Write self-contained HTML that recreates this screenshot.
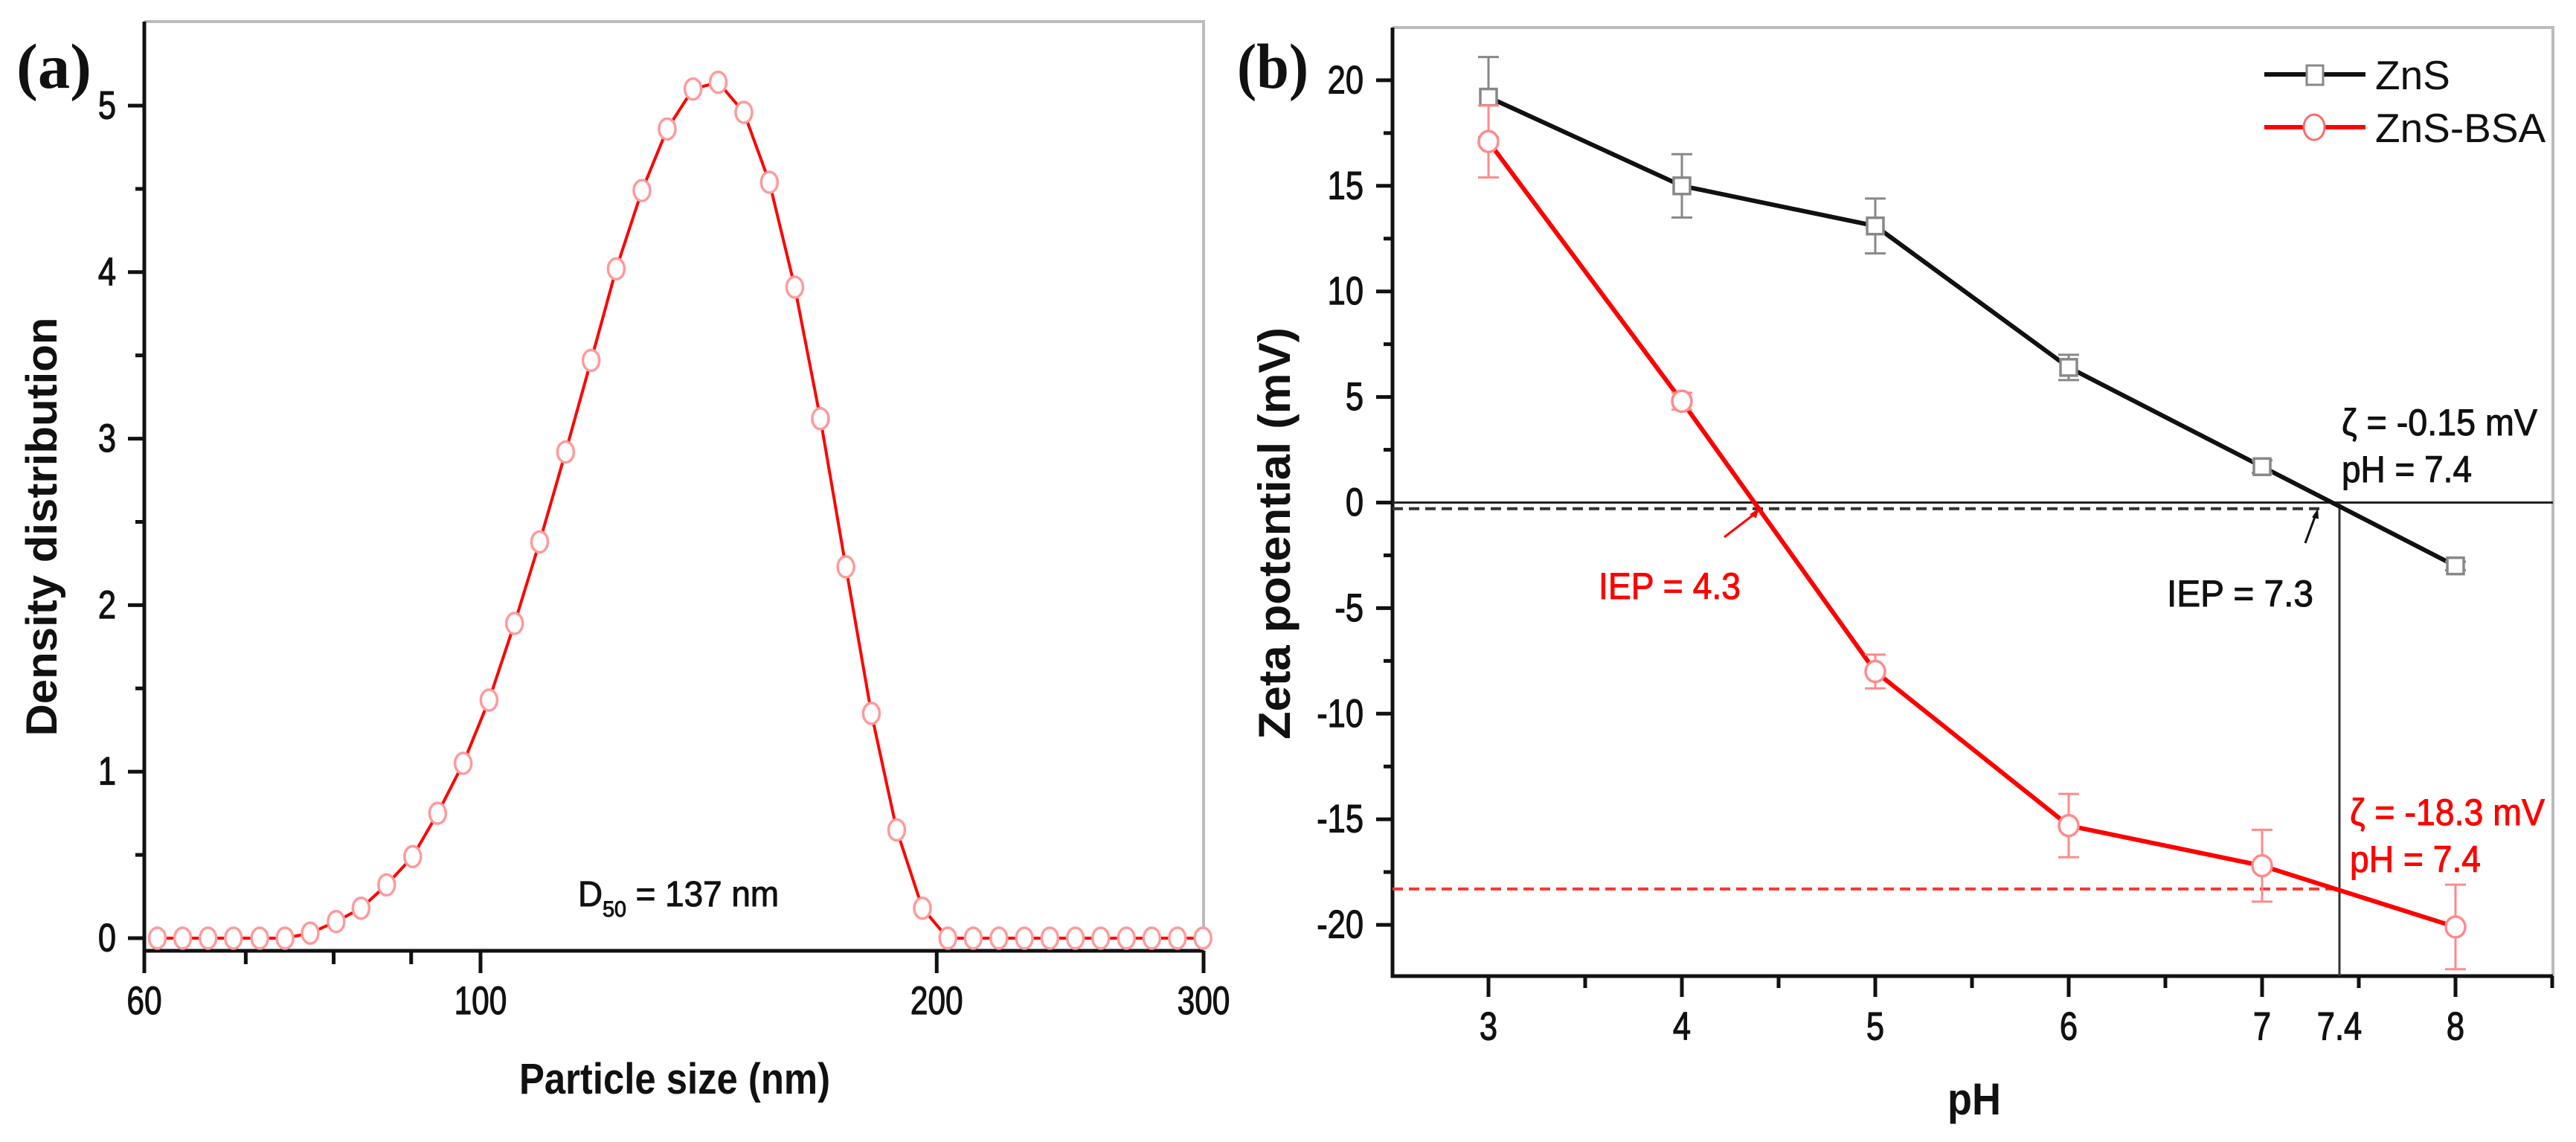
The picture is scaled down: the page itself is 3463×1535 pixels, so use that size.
<!DOCTYPE html>
<html><head><meta charset="utf-8"><style>
html,body{margin:0;padding:0;background:#fff;}
svg{display:block;}
text{font-family:"Liberation Sans",Arial,sans-serif;}
</style></head><body>
<svg id="fig" width="3463" height="1535" viewBox="0 0 3463 1535" xmlns="http://www.w3.org/2000/svg">
<g id="pa"></g>
<g id="pb"></g>
</svg>
<script>
// ---------- Panel (a) data ----------
const sizeX = [61.2,63.6,66.1,68.7,71.5,74.3,77.2,80.3,83.4,86.7,90.2,93.7,97.4,101.3,105.3,109.4,113.8,118.3,122.9,127.8,132.8,138.1,143.5,149.2,155.1,161.2,167.6,174.2,181.1,188.2,195.7,203.4,211.4,219.8,228.5,237.5,246.9,256.6,266.8,277.3,288.3,299.7];
const densityY = [0,0,0,0,0,0,0.03,0.10,0.18,0.32,0.49,0.75,1.05,1.43,1.89,2.38,2.92,3.47,4.02,4.49,4.86,5.10,5.14,4.96,4.54,3.91,3.12,2.23,1.35,0.65,0.18,0,0,0,0,0,0,0,0,0,0,0];
const aXTicks = [60,100,200,300];
const aXMinor = [70,80,90];
const aYTicks = [0,1,2,3,4,5];
// ---------- Panel (b) data ----------
const pH = [3,4,5,6,7,8];
const znsZeta = [19.2,15.0,13.1,6.4,1.7,-3.0];
const znsErr = [1.9,1.5,1.3,0.6,0.3,0.2];
const bsaZeta = [17.1,4.8,-8.0,-15.3,-17.2,-20.1];
const bsaErr = [1.7,0.4,0.8,1.5,1.7,2.0];
const bXTicks = [3,4,5,6,7,8];
const bYTicks = [-20,-15,-10,-5,0,5,10,15,20];
const iepZnS = 7.3, iepBSA = 4.3, phRef = 7.4, zetaZnSRef = -0.15, zetaBSARef = -18.3;

const NS = "http://www.w3.org/2000/svg";
function mk(parent, tag, attrs){
  const e = document.createElementNS(NS, tag);
  for (const k in attrs) e.setAttribute(k, attrs[k]);
  parent.appendChild(e); return e;
}
function txt(parent, x, y, s, size, anchor, sx, extra){
  const g = mk(parent, 'g', {transform:`translate(${x},${y}) scale(${sx},1)`});
  const t = mk(g, 'text', Object.assign({x:0, y:0, 'font-size':size, 'text-anchor':anchor, 'dominant-baseline':'central', stroke:'#111', 'stroke-width':1.2}, extra||{}));
  t.textContent = s; return t;
}

// ===== Panel A =====
const pa = document.getElementById('pa');
const aL=194, aR=1618, aT=29, aB=1278;
const ax = v => aL + (Math.log10(v) - Math.log10(60)) / (Math.log10(300) - Math.log10(60)) * (aR - aL);
const ay = v => 1261 - v * 223.8;
let fr = mk(pa,'path',{d:`M${aL},${aT} H${aR} V${aB}`, fill:'none', stroke:'#bbb', 'stroke-width':4});
 
let axl = mk(pa,'path',{d:`M${aL},${aT} V${aB} H${aR}`, fill:'none', stroke:'#111', 'stroke-width':5});
 
for (let v=0; v<=5.001; v+=0.5){
  const major = Math.abs(v-Math.round(v))<0.01;
  mk(pa,'line',{x1:aL, x2:aL-(major?22:12), y1:ay(v), y2:ay(v), stroke:'#111','stroke-width':5});
}
aYTicks.forEach(v=>{
  const t = txt(pa, 156, ay(v), String(v), 53, 'end', 0.82, {fill:'#111'});
   
});
aXTicks.forEach(v=>{
  mk(pa,'line',{x1:ax(v),x2:ax(v),y1:aB,y2:aB+30,stroke:'#111','stroke-width':5});
  const t = txt(pa, ax(v), 1346, String(v), 53, 'middle', 0.8, {fill:'#111'});
   
});
aXMinor.forEach(v=>{ mk(pa,'line',{x1:ax(v),x2:ax(v),y1:aB,y2:aB+18,stroke:'#111','stroke-width':5}); });
let curve = mk(pa,'polyline',{points: sizeX.map((x,i)=>`${ax(x)},${ay(densityY[i])}`).join(' '), fill:'none', stroke:'#f00','stroke-width':4});
 
sizeX.forEach((x,i)=>{
  const m = mk(pa,'ellipse',{cx:ax(x), cy:ay(densityY[i]), rx:11, ry:14, fill:'#fff', stroke:'#ff9a9a','stroke-width':3.5});
   
});
let d50 = mk(pa,'text',{x:777, y:1218, 'font-size':48, fill:'#111', stroke:'#111','stroke-width':1, textLength:270, lengthAdjust:'spacingAndGlyphs'});
 
d50.innerHTML = 'D<tspan font-size="30" dy="14">50</tspan><tspan dy="-14"> = 137 nm</tspan>';
let axt = mk(pa,'text',{x:907, y:1470, 'font-size':58, 'font-weight':'bold', 'text-anchor':'middle', fill:'#111', textLength:418, lengthAdjust:'spacingAndGlyphs'});
axt.textContent='Particle size (nm)';  
let ayt = mk(pa,'text',{x:0, y:0, transform:'translate(76,708) rotate(-90)', 'font-size':58, 'font-weight':'bold', 'text-anchor':'middle', fill:'#111', textLength:563, lengthAdjust:'spacingAndGlyphs'});
ayt.textContent='Density distribution';  
let la = mk(pa,'text',{x:22, y:118, 'font-size':86, 'font-weight':'bold', fill:'#111', textLength:101, lengthAdjust:'spacingAndGlyphs', style:'font-family:"Liberation Serif",serif'});
la.textContent='(a)';  

// ===== Panel B =====
const pb = document.getElementById('pb');
const bL=1872, bR=3432, bT=37, bB=1312;
const bx = v => 2001 + (v-3)*260;
const by = v => 675.5 - v*28.38;
let frb = mk(pb,'path',{d:`M${bL},${bT} H${bR} V${bB}`, fill:'none', stroke:'#bbb','stroke-width':4});
 
let axb = mk(pb,'path',{d:`M${bL},${bT} V${bB} H${bR}`, fill:'none', stroke:'#111','stroke-width':5});
 
for (let v=-20; v<=20.01; v+=2.5){
  const major = Math.abs(v/5-Math.round(v/5))<0.01;
  mk(pb,'line',{x1:bL,x2:bL-(major?22:12),y1:by(v),y2:by(v),stroke:'#111','stroke-width':5});
}
bYTicks.forEach(v=>{
  const t = txt(pb, 1833, by(v), String(v), 53, 'end', 0.82, {fill:'#111'});
   
});
for (let v=2.5; v<=8.51; v+=0.5){
  const major = Math.abs(v-Math.round(v))<0.01;
  if (v<2.55) continue;
  mk(pb,'line',{x1:bx(v),x2:bx(v),y1:bB,y2:bB+(major?28:16),stroke:'#111','stroke-width':5});
}
bXTicks.forEach(v=>{
  const t = txt(pb, bx(v), 1380, String(v), 53, 'middle', 0.82, {fill:'#111'});
   
});
let t74 = txt(pb, bx(phRef), 1380, '7.4', 53, 'middle', 0.82, {fill:'#111'});
 
// reference lines
let zl = mk(pb,'line',{x1:bL,x2:bR,y1:by(0),y2:by(0),stroke:'#222','stroke-width':3});
 
let dl = mk(pb,'line',{x1:bL,x2:bx(iepZnS),y1:by(zetaZnSRef)+4,y2:by(zetaZnSRef)+4,stroke:'#333','stroke-width':4,'stroke-dasharray':'14,8'});
 
let vl = mk(pb,'line',{x1:bx(phRef),x2:bx(phRef),y1:by(0),y2:bB,stroke:'#333','stroke-width':3});
 
let rl = mk(pb,'line',{x1:bL,x2:bx(phRef),y1:by(zetaBSARef),y2:by(zetaBSARef),stroke:'#f33','stroke-width':4,'stroke-dasharray':'14,8'});
 
// series
function series(vals, errs, color, ecolor, shape, name){
  const g = mk(pb,'g',{});
   
  mk(g,'polyline',{points: pH.map((x,i)=>`${bx(x)},${by(vals[i])}`).join(' '), fill:'none', stroke:color,'stroke-width':6});
  pH.forEach((x,i)=>{
    const cx=bx(x), y1=by(vals[i]+errs[i]), y2=by(vals[i]-errs[i]);
    const eb = mk(g,'path',{d:`M${cx},${y1} V${y2} M${cx-14},${y1} H${cx+14} M${cx-14},${y2} H${cx+14}`, stroke:ecolor,'stroke-width':3, fill:'none'});
     
    let m;
    if (shape==='sq') m = mk(g,'rect',{x:cx-11,y:by(vals[i])-11,width:22,height:22,fill:'#fff',stroke:ecolor,'stroke-width':3.5});
    else m = mk(g,'ellipse',{cx:cx,cy:by(vals[i]),rx:13,ry:14,fill:'#fff',stroke:ecolor,'stroke-width':3.5});
     
  });
}
series(znsZeta, znsErr, '#111', '#888', 'sq', 'zns');
series(bsaZeta, bsaErr, '#f00', '#ff8a8a', 'ci', 'zns-bsa');
// arrows
let ar1 = mk(pb,'path',{d:`M2318,722 L${bx(iepBSA)+24},${by(0)+12}`, stroke:'#f00','stroke-width':3, fill:'none'});
 
mk(pb,'path',{d:`M${bx(iepBSA)+25},${by(0)+8} l-12,8 l9,5 z`, fill:'#f00'});
let ar2 = mk(pb,'path',{d:`M3099,730 L3114,${by(0)+14}`, stroke:'#111','stroke-width':3, fill:'none'});
 
mk(pb,'path',{d:`M3116,${by(0)+8} l-8,12 l9,2 z`, fill:'#111'});
// annotations
function ann(x,y,s,col,len,name){
  const t = mk(pb,'text',{x:x,y:y,'font-size':50,fill:col,stroke:col,'stroke-width':1,'dominant-baseline':'central',textLength:len,lengthAdjust:'spacingAndGlyphs'});
  t.textContent=s;  
}
ann(2149,788,'IEP = 4.3','#f00',191,'iep-bsa-label');
ann(2913,798,'IEP = 7.3','#111',197,'iep-zns-label');
ann(3148,568,'ζ = -0.15 mV','#111',263,'zns-zeta-label');
ann(3148,631,'pH = 7.4','#111',175,'zns-ph-label');
ann(3159,1092,'ζ = -18.3 mV','#f00',262,'bsa-zeta-label');
ann(3159,1155,'pH = 7.4','#f00',176,'bsa-ph-label');
// legend
const lg = mk(pb,'g',{});  
const e1 = mk(lg,'g',{});  
mk(e1,'line',{x1:3044,x2:3180,y1:100,y2:100,stroke:'#111','stroke-width':6});
mk(e1,'rect',{x:3101,y:88,width:22,height:26,fill:'#fff',stroke:'#888','stroke-width':3});
let l1 = mk(e1,'text',{x:3193,y:101,'font-size':55,fill:'#111','dominant-baseline':'central'}); l1.textContent='ZnS';
const e2 = mk(lg,'g',{});  
mk(e2,'line',{x1:3044,x2:3180,y1:171,y2:171,stroke:'#f00','stroke-width':6});
mk(e2,'ellipse',{cx:3111,cy:171,rx:14,ry:17,fill:'#fff',stroke:'#ff6a6a','stroke-width':3});
let l2 = mk(e2,'text',{x:3193,y:172,'font-size':55,fill:'#111','dominant-baseline':'central'}); l2.textContent='ZnS-BSA';
// titles
let bxt = mk(pb,'text',{x:2654,y:1498,'font-size':60,'font-weight':'bold','text-anchor':'middle',fill:'#111',textLength:72,lengthAdjust:'spacingAndGlyphs'});
bxt.textContent='pH';  
let byt = mk(pb,'text',{x:0,y:0,transform:'translate(1734,717) rotate(-90)','font-size':60,'font-weight':'bold','text-anchor':'middle',fill:'#111',textLength:554,lengthAdjust:'spacingAndGlyphs'});
byt.textContent='Zeta potential (mV)';  
let lb = mk(pb,'text',{x:1663,y:118,'font-size':86,'font-weight':'bold',fill:'#111',textLength:96,lengthAdjust:'spacingAndGlyphs',style:'font-family:"Liberation Serif",serif'});
lb.textContent='(b)';  
</script>
</body></html>
